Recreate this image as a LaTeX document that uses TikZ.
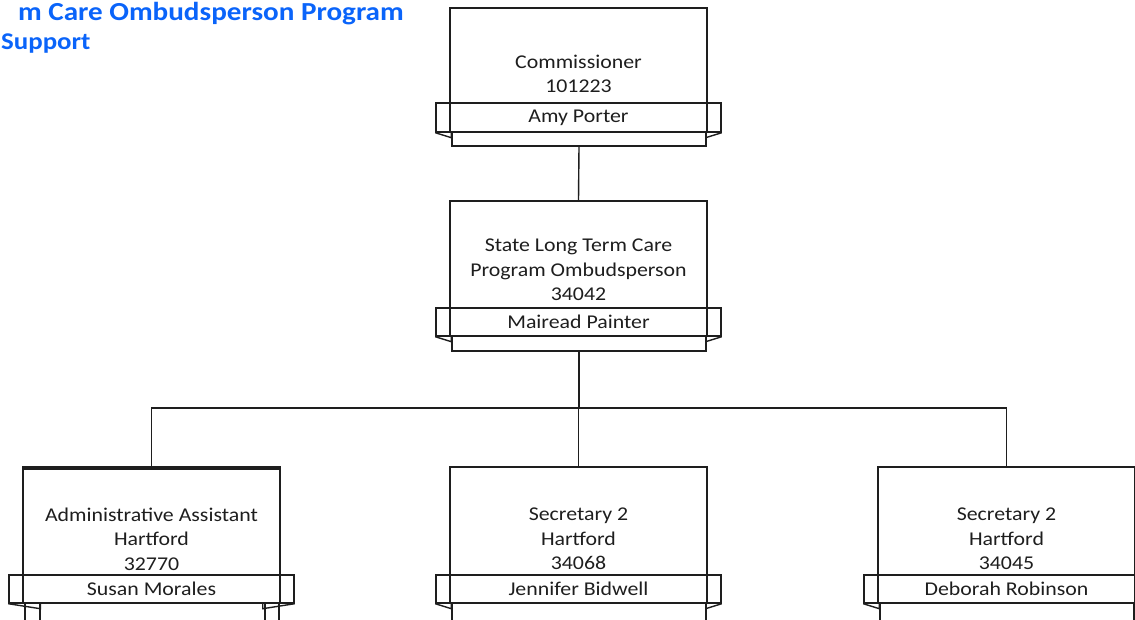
\documentclass[tikz,border=0pt]{standalone}
\usepackage{fontspec}
\setmainfont[FakeStretch=1.12]{Carlito}
\definecolor{titleblue}{RGB}{10,100,250}
\definecolor{ink}{RGB}{30,30,30}
\tikzset{
  cardline/.style={draw=ink, line width=1.4pt},
  cardbox/.style={cardline, rectangle, inner sep=0pt, minimum width=257pt},
  lowbox/.style={cardline, rectangle, inner sep=0pt, minimum width=254pt},
  ribbonbox/.style={cardline, rectangle, inner sep=0pt, minimum width=285pt,
     font=\fontsize{19.5}{24}\selectfont, text=ink},
  cardtext/.style={align=center, inner sep=0pt, font=\fontsize{19.5}{24.5}\selectfont, text=ink},
  titletext/.style={inner sep=0pt, text=titleblue, font=\bfseries\fontsize{26}{30}\selectfont},
  subtitletext/.style={inner sep=0pt, text=titleblue, font=\bfseries\fontsize{24}{28}\selectfont},
}
\def\foldin{16}
% #1 name, #2 centre x, #3 top, #4 ribbon top, #5 ribbon bottom, #6 bottom, #7 text, #8 person, #9 text centre y
\newcommand\orgcard[9]{%
  \node[cardbox, minimum height={#5-#3}] (#1) at (#2,{(#3+#5)/2}) {};
  \node[lowbox, minimum height={#6-#5}] (#1low) at ({#2+0.5},{(#5+#6)/2}) {};
  \node[ribbonbox, minimum height={#5-#4}] (#1name) at (#2,{(#4+#5)/2}) {#8};
  \draw[cardline] (#1name.south west) -- ++(\foldin,5) -- ++(0,-5);
  \draw[cardline] (#1name.south east) -- ++(-\foldin,5) -- ++(0,-5);
  \node[cardtext] (#1text) at (#2,#9) {#7};
}
\begin{document}
\begin{tikzpicture}[x=1pt,y=-1pt]
\useasboundingbox (0,0) rectangle (1135,619);
\fill[white] (0,0) rectangle (1135,619);

\node[titletext, anchor=base east] (title1) at (404,20) {m Care Ombudsperson Program};
\node[subtitletext, anchor=base west] (title2) at (1,49) {Support};

\orgcard{c1}{578.5}{8}{103}{132}{146}{Commissioner\\101223}{Amy Porter}{74}
\orgcard{c2}{578.5}{201}{308}{336}{351}{State Long Term Care\\Program Ombudsperson\\34042}{Mairead Painter}{270}
\def\foldin{32}
\orgcard{c3}{151.5}{467}{575}{603}{640}{Administrative Assistant\\Hartford\\32770}{Susan Morales}{539}
\draw[cardline] (23,469) -- (280,469);
\draw[cardline] (40,603) rectangle (265,640);
\def\foldin{16}
\orgcard{c4}{578.5}{467}{575}{603}{640}{Secretary 2\\Hartford\\34068}{Jennifer Bidwell}{539}
\orgcard{c5}{1006.5}{467}{575}{603}{640}{Secretary 2\\Hartford\\34045}{Deborah Robinson}{539}

\coordinate (busy) at (0,408);
\draw[cardline] (c1low.south) -- (c2.north);
\draw[cardline] (c2low.south) -- (c2low.south |- busy);
\draw[cardline] (c3.north) -- (c3.north |- busy) -- (c5.north |- busy) -- (c5.north);
\draw[cardline] (c4.north) -- (c4.north |- busy);
\end{tikzpicture}
\end{document}
